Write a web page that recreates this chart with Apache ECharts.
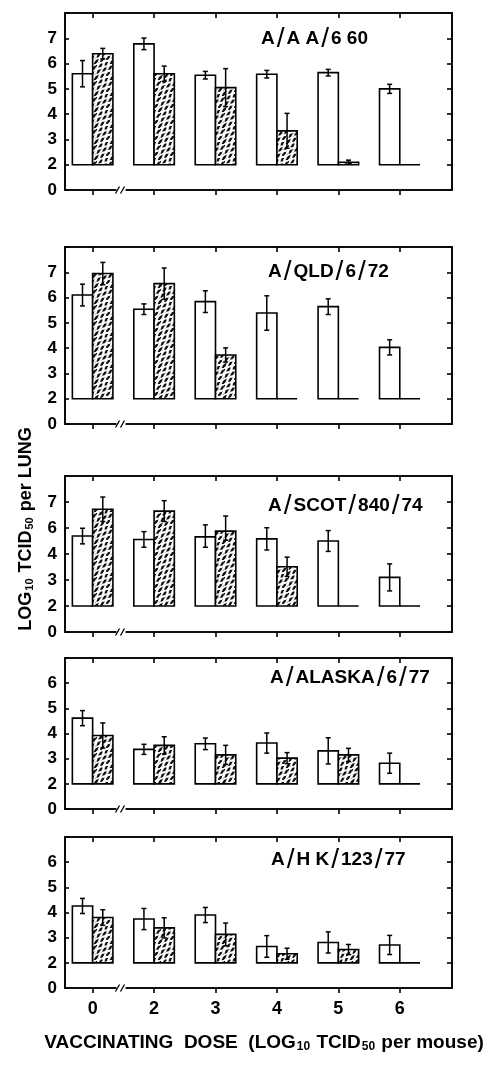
<!DOCTYPE html>
<html><head><meta charset="utf-8">
<script src="https://cdn.jsdelivr.net/npm/echarts@6/dist/echarts.min.js"></script>
<style>html,body{margin:0;padding:0;background:#fff}#c{width:489px;height:1065px}</style>
</head><body><div id="c"></div>
<script>
// ---------- data ----------
const doses = ['0', '2', '3', '4', '5', '6'];
const titles = ['A/A A/6 60', 'A/QLD/6/72', 'A/SCOT/840/74', 'A/ALASKA/6/77', 'A/H K/123/77'];
const yTicksA = [0, 2, 3, 4, 5, 6, 7];
const yTicksB = [0, 2, 3, 4, 6, 7];
const yTicksC = [0, 2, 3, 4, 5, 6];

const aaOpen = [5.6, 6.78, 5.54, 5.58, 5.64, 5.0];
const aaOpenErr = [0.52, 0.23, 0.15, 0.15, 0.13, 0.18];
const aaHatch = [6.39, 5.6, 5.05, 3.34, 2.1, 2];
const aaHatchErr = [0.21, 0.3, 0.75, 0.69, 0.08, 0];

const qldOpen = [6.1, 5.54, 5.84, 5.39, 5.64, 4.03];
const qldOpenErr = [0.43, 0.21, 0.43, 0.68, 0.31, 0.3];
const qldHatch = [6.95, 6.55, 3.73, 2, 2, 2];
const qldHatchErr = [0.44, 0.62, 0.28, 0, 0, 0];

const scotOpen = [5.38, 5.12, 5.32, 5.16, 5.0, 3.1];
const scotOpenErr = [0.6, 0.6, 0.8, 0.85, 0.8, 0.52];
const scotHatch = [6.72, 6.65, 5.76, 3.51, 2, 2];
const scotHatchErr = [0.47, 0.4, 0.7, 0.37, 0, 0];

const alOpen = [4.61, 3.37, 3.59, 3.62, 3.31, 2.82];
const alOpenErr = [0.3, 0.2, 0.23, 0.4, 0.52, 0.4];
const alHatch = [3.92, 3.53, 3.15, 3.02, 3.15, 2];
const alHatchErr = [0.5, 0.34, 0.38, 0.22, 0.26, 0];

const hkOpen = [4.26, 3.74, 3.9, 2.65, 2.81, 2.71];
const hkOpenErr = [0.3, 0.42, 0.3, 0.43, 0.42, 0.38];
const hkHatch = [3.8, 3.39, 3.13, 2.36, 2.53, 2];
const hkHatchErr = [0.31, 0.4, 0.45, 0.22, 0.2, 0];

// ---------- layout / style ----------
const FONT = "'Liberation Sans', Arial, Helvetica, sans-serif";
const LEFT = 65, WIDTH = 387, XMIN = -0.45, XMAX = 5.85, BW = 0.33, BASE = 2, BREAK_X = 0.47;
const panels = [
  { title: titles[0], ticks: yTicksA, open: aaOpen, openErr: aaOpenErr, hatch: aaHatch, hatchErr: aaHatchErr, top: 13, height: 177, tx: 256, ty: 20 },
  { title: titles[1], ticks: yTicksA, open: qldOpen, openErr: qldOpenErr, hatch: qldHatch, hatchErr: qldHatchErr, top: 247, height: 177, tx: 263, ty: 253 },
  { title: titles[2], ticks: yTicksB, open: scotOpen, openErr: scotOpenErr, hatch: scotHatch, hatchErr: scotHatchErr, top: 476, height: 156, tx: 263, ty: 487 },
  { title: titles[3], ticks: yTicksC, open: alOpen, openErr: alOpenErr, hatch: alHatch, hatchErr: alHatchErr, top: 658, height: 151, tx: 265, ty: 659 },
  { title: titles[4], ticks: yTicksC, open: hkOpen, openErr: hkOpenErr, hatch: hkHatch, hatchErr: hkHatchErr, top: 837, height: 151, tx: 266, ty: 841 }
];

function makePattern() {
  const S = 16;
  const c = document.createElement('canvas'); c.width = S; c.height = S;
  const g = c.getContext('2d');
  g.fillStyle = '#111'; g.fillRect(0, 0, S, S);
  g.strokeStyle = '#ffffff'; g.lineWidth = 2.1; g.lineCap = 'round';
  g.setLineDash([4.5, 2]);
  for (let k = -4; k <= 8; k++) {
    const c0 = k * S / 4;
    g.beginPath();
    for (let x = -2; x <= S + 2; x += 0.5) {
      const y = c0 - x + 1.3 * Math.sin(2 * Math.PI * x / 8 + k * 1.7);
      if (x === -2) g.moveTo(x, y); else g.lineTo(x, y);
    }
    g.stroke();
  }
  return { image: c, repeat: 'repeat' };
}
const PATTERN = makePattern();

function toPos(v, t) {
  const n = t.length;
  for (let i = 0; i < n - 1; i++) {
    if (v <= t[i + 1]) return i + 1 + (v - t[i]) / (t[i + 1] - t[i]);
  }
  return n + (v - t[n - 1]) / (t[n - 1] - t[n - 2]);
}

function makeBarRender(side, ticks) {
  return function (params, api) {
    const x = api.value(0), v = api.value(1), e = api.value(2);
    const xa = side < 0 ? x - BW : x;
    const xb = side < 0 ? x : x + BW;
    const p0 = api.coord([xa, toPos(BASE, ticks)]);
    const p1 = api.coord([xb, toPos(v, ticks)]);
    const children = [{
      type: 'rect',
      shape: { x: p0[0], y: p1[1], width: p1[0] - p0[0], height: p0[1] - p1[1] },
      style: { fill: side < 0 ? '#fff' : PATTERN, stroke: '#000', lineWidth: 1.6 }
    }];
    if (e > 0) {
      const xc = (xa + xb) / 2;
      const t = api.coord([xc, toPos(v + e, ticks)]);
      const b = api.coord([xc, toPos(v - e, ticks)]);
      const cw = 2.5;
      const ls = { stroke: '#000', lineWidth: 1.5 };
      children.push({ type: 'line', shape: { x1: t[0], y1: t[1], x2: b[0], y2: b[1] }, style: ls });
      children.push({ type: 'line', shape: { x1: t[0] - cw, y1: t[1], x2: t[0] + cw, y2: t[1] }, style: ls });
      children.push({ type: 'line', shape: { x1: b[0] - cw, y1: b[1], x2: b[0] + cw, y2: b[1] }, style: ls });
    }
    return { type: 'group', children };
  };
}

function renderBreak(params, api) {
  const p = api.coord([api.value(0), api.value(1)]);
  const x = p[0], y = p[1];
  return {
    type: 'group', children: [
      { type: 'rect', shape: { x: x - 5, y: y - 3, width: 9, height: 6 }, style: { fill: '#fff' } },
      { type: 'line', shape: { x1: x - 6, y1: y + 3.5, x2: x - 2, y2: y - 3.5 }, style: { stroke: '#000', lineWidth: 1.3 } },
      { type: 'line', shape: { x1: x - 1, y1: y + 3.5, x2: x + 3, y2: y - 3.5 }, style: { stroke: '#000', lineWidth: 1.3 } }
    ]
  };
}

const grid = [], xAxis = [], yAxis = [], series = [], title = [];
const axisLineStyle = { color: '#000', width: 1.6 };
const tickVals = doses.map((d, i) => i);
const richTitle = {
  b: { fontSize: 19, fontWeight: 'bold', fontFamily: FONT, color: '#000' },
  s: { fontSize: 28, fontWeight: 'normal', fontFamily: FONT, color: '#000', padding: [0, 2] }
};

panels.forEach((p, i) => {
  grid.push({ left: LEFT, width: WIDTH, top: p.top, height: p.height, show: true, borderColor: '#000', borderWidth: 1.6, backgroundColor: 'transparent' });
  const n = p.ticks.length;
  xAxis.push({
    gridIndex: i, type: 'value', min: XMIN, max: XMAX, position: 'bottom',
    axisLine: { show: true, onZero: false, lineStyle: axisLineStyle },
    axisTick: { show: true, inside: false, length: 5, customValues: tickVals, lineStyle: axisLineStyle },
    axisLabel: {
      show: i === panels.length - 1, customValues: tickVals, margin: 12,
      formatter: v => doses[Math.round(v)], fontSize: 18, fontWeight: 'bold', color: '#000', fontFamily: FONT
    },
    splitLine: { show: false }
  });
  xAxis.push({
    gridIndex: i, type: 'value', min: XMIN, max: XMAX, position: 'top',
    axisLine: { show: true, onZero: false, lineStyle: axisLineStyle },
    axisTick: { show: true, inside: true, length: 5, customValues: tickVals, lineStyle: axisLineStyle },
    axisLabel: { show: false }, splitLine: { show: false }
  });
  yAxis.push({
    gridIndex: i, type: 'value', min: 1, max: n + 1, interval: 1, position: 'left',
    axisLine: { show: true, onZero: false, lineStyle: axisLineStyle },
    axisTick: { show: true, inside: true, length: 4, lineStyle: axisLineStyle },
    axisLabel: {
      margin: 8, fontSize: 17, fontWeight: 'bold', color: '#000', fontFamily: FONT,
      formatter: v => (v >= 1 && v <= n) ? String(p.ticks[v - 1]) : ''
    },
    splitLine: { show: false }
  });
  yAxis.push({
    gridIndex: i, type: 'value', min: 1, max: n + 1, interval: 1, position: 'right',
    axisLine: { show: true, onZero: false, lineStyle: axisLineStyle },
    axisTick: { show: true, inside: true, length: 5, lineStyle: axisLineStyle },
    axisLabel: { show: false }, splitLine: { show: false }
  });
  series.push({
    type: 'custom', xAxisIndex: 2 * i, yAxisIndex: 2 * i, z: 3,
    renderItem: makeBarRender(-1, p.ticks),
    data: p.open.map((v, j) => [j, v, p.openErr[j]])
  });
  series.push({
    type: 'custom', xAxisIndex: 2 * i, yAxisIndex: 2 * i, z: 3,
    renderItem: makeBarRender(1, p.ticks),
    data: p.hatch.map((v, j) => [j, v, p.hatchErr[j]])
  });
  series.push({
    type: 'custom', xAxisIndex: 2 * i, yAxisIndex: 2 * i, z: 5, clip: false,
    renderItem: renderBreak, data: [[BREAK_X, 1]]
  });
  title.push({
    left: p.tx, top: p.ty,
    text: p.title.split('/').map(s => '{b|' + s + '}').join('{s|/}'),
    textStyle: { rich: richTitle }
  });
});

const richY = {
  b: { fontSize: 18, fontWeight: 'bold', fontFamily: FONT, color: '#000' },
  s: { fontSize: 11, fontWeight: 'bold', fontFamily: FONT, color: '#000', verticalAlign: 'bottom', padding: [6, 1, 0, 1] }
};
const richX = {
  b: { fontSize: 19, fontWeight: 'bold', fontFamily: FONT, color: '#000' },
  s: { fontSize: 12, fontWeight: 'bold', fontFamily: FONT, color: '#000', verticalAlign: 'bottom', padding: [6, 1, 0, 1] }
};

const option = {
  animation: false,
  backgroundColor: '#fff',
  title, grid, xAxis, yAxis, series,
  graphic: [
    {
      type: 'text', x: 26, y: 529, rotation: Math.PI / 2,
      style: { text: '{b|LOG}{s|10}{b| TCID}{s|50}{b| per LUNG}', rich: richY, align: 'center', verticalAlign: 'middle' }
    },
    {
      type: 'text', x: 264, y: 1043,
      style: { text: '{b|VACCINATING  DOSE  (LOG}{s|10}{b| TCID}{s|50}{b| per mouse)}', rich: richX, align: 'center', verticalAlign: 'middle' }
    }
  ]
};
const chart = echarts.init(document.getElementById('c'));
chart.setOption(option);
</script>
</body></html>
